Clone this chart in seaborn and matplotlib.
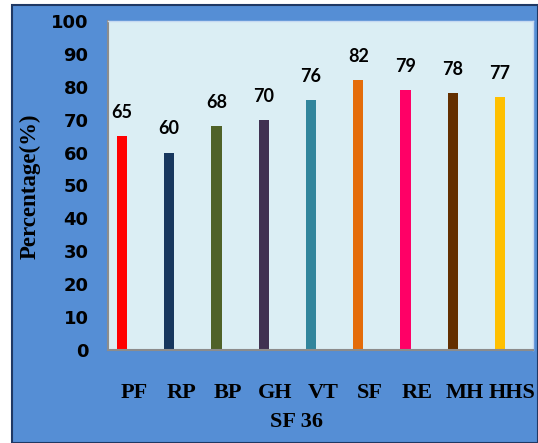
import matplotlib
matplotlib.use("Agg")
import matplotlib.pyplot as plt
import seaborn as sns
import pandas as pd
import numpy as np
from matplotlib.patches import Rectangle

# -------------------------------
# Data: SF-36 domain scores
# -------------------------------
domains = ['PF', 'RP', 'BP', 'GH', 'VT', 'SF', 'RE', 'MH', 'HHS']
scores = [65, 60, 68, 70, 76, 82, 79, 78, 77]
bar_colors = ['#ff0000', '#17375e', '#4f6228', '#403151', '#31859c',
              '#e46c0a', '#ff0066', '#632f00', '#ffc000']

df = pd.DataFrame({'domain': domains, 'score': scores})

sns.set_style("white")
plt.rcParams['text.color'] = 'black'
plt.rcParams['xtick.color'] = 'black'
plt.rcParams['ytick.color'] = 'black'

fig = plt.figure(figsize=(5.38, 4.43), dpi=100)
fig.patch.set_facecolor('white')

# blue chart frame behind everything
frame = Rectangle((12 / 538, 0), 1 - 12 / 538, (443 - 5) / 443,
                  transform=fig.transFigure, facecolor='#558ed5',
                  edgecolor='#1f3864', linewidth=1.5, zorder=-5)
fig.patches.append(frame)

ax = fig.add_axes([108 / 538, (443 - 350) / 443, (533 - 108) / 538, (350 - 21) / 443])
ax.set_zorder(2)
ax.set_facecolor('#dbeef4')

sns.barplot(data=df, x='domain', y='score', hue='domain', palette=bar_colors,
            width=0.22, legend=False, ax=ax, saturation=1, linewidth=0)

for i, v in enumerate(scores):
    ax.annotate(str(v), (i, v), xytext=(0, 17), textcoords='offset points',
                ha='center', va='center', fontsize=13, fontweight='bold',
                family='Lato', color='black')

ax.set_xlim(-0.296, 8.698)
ax.set_ylim(0, 100)
ax.set_yticks(np.arange(0, 101, 10))
ax.set_yticklabels([str(t) for t in range(0, 101, 10)],
                   fontsize=13, fontweight='heavy', family='DejaVu Sans')
ax.set_xticks(np.arange(len(domains)) + 0.25)
ax.set_xticklabels(domains, fontsize=16, fontweight='bold', family='Liberation Serif')
ax.tick_params(axis='y', length=0, pad=14)
ax.tick_params(axis='x', length=0, pad=24)
ax.set_xlabel('')
ax.set_ylabel('')

for side in ['left', 'bottom']:
    ax.spines[side].set_color('#8c8c8c')
    ax.spines[side].set_linewidth(1.5)
for side in ['top', 'right']:
    ax.spines[side].set_color('#c6d9f1')
    ax.spines[side].set_linewidth(1)

fig.text(296 / 538, 1 - 422 / 443, 'SF 36', ha='center', va='center',
         fontsize=16, fontweight='bold', family='Liberation Serif')
fig.text(30 / 538, 1 - 186 / 443, 'Percentage(%)', ha='center', va='center',
         rotation=90, fontsize=16.5, fontweight='bold', family='Liberation Serif')

plt.savefig("out.png", dpi=100)
plt.close()
